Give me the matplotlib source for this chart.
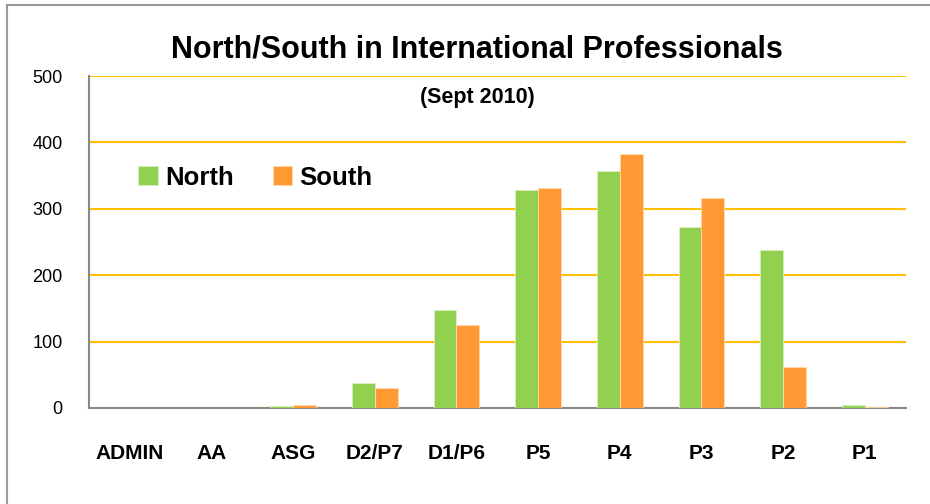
import matplotlib.pyplot as plt
import numpy as np
from matplotlib.lines import Line2D

categories = ['ADMIN', 'AA', 'ASG', 'D2/P7', 'D1/P6', 'P5', 'P4', 'P3', 'P2', 'P1']
north = [0, 0, 3, 38, 147, 328, 357, 273, 238, 5]
south = [0, 0, 4, 30, 125, 332, 382, 317, 61, 2]
yticks = [0, 100, 200, 300, 400, 500]

font = ['Liberation Sans', 'DejaVu Sans']

fig = plt.figure(figsize=(9.3, 5.04), dpi=100)
ax = fig.add_axes([0.0957, 0.1905, 0.878, 0.6585])

x = np.arange(len(categories))
w = 0.28
ax.bar(x - w / 2, north, w, color='#92d050', edgecolor='#d8efc0', linewidth=0.6, label='North', zorder=3)
ax.bar(x + w / 2, south, w, color='#ff9933', edgecolor='#ffd9b0', linewidth=0.6, label='South', zorder=3)

ax.set_xlim(-0.5, len(categories) - 0.5)
ax.set_ylim(0, 500)
ax.set_yticks(yticks)
ax.set_yticklabels([str(v) for v in yticks], family=font, fontsize=13)
ax.set_xticks(x)
ax.set_xticklabels(categories, family=font, fontsize=15, fontweight='bold')
ax.tick_params(axis='both', length=0)
ax.tick_params(axis='x', pad=26)
ax.tick_params(axis='y', pad=19)

ax.grid(axis='y', color='#ffc000', linewidth=1.5, zorder=0)
for s in ['top', 'right']:
    ax.spines[s].set_visible(False)
for s in ['left', 'bottom']:
    ax.spines[s].set_color('#888888')
    ax.spines[s].set_linewidth(1.5)

fig.text(0.513, 0.902, 'North/South in International Professionals', ha='center', va='center',
         family=font, fontsize=22, fontweight='bold')
fig.text(0.513, 0.806, '(Sept 2010)', ha='center', va='center',
         family=font, fontsize=15.5, fontweight='bold')

leg = ax.legend(loc='upper left', bbox_to_anchor=(0.032, 0.80), frameon=False, ncol=2,
                prop={'family': font, 'size': 18.5, 'weight': 'bold'},
                handlelength=0.75, handleheight=0.75, handletextpad=0.3, columnspacing=1.5)

fig.add_artist(Line2D([7 / 930, 7 / 930], [0, 1 - 5 / 504], color='#999999', linewidth=1.5))
fig.add_artist(Line2D([7 / 930, 1], [1 - 5 / 504, 1 - 5 / 504], color='#999999', linewidth=1.5))

fig.savefig('out.png', dpi=100)
